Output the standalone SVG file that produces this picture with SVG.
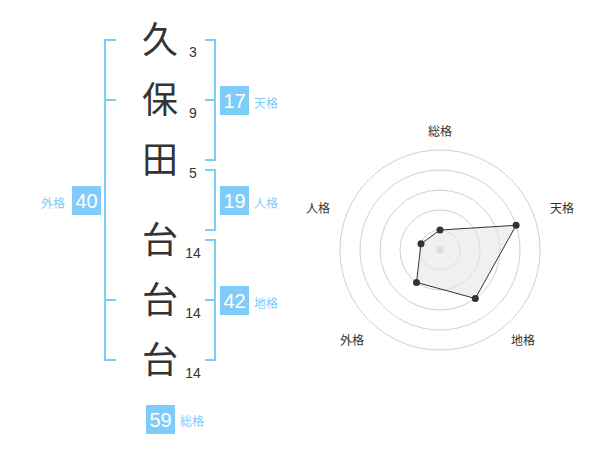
<svg xmlns="http://www.w3.org/2000/svg" width="600" height="470" viewBox="0 0 600 470">
<style>
.ch{font-family:"Noto Sans CJK JP","Noto Sans",sans-serif;font-size:36px;fill:#333;text-anchor:middle}
.st{font-family:"Liberation Sans",Arial,sans-serif;font-size:14px;fill:#333;text-anchor:middle}
.br{fill:none;stroke:#80ccf8;stroke-width:2}
.bx{fill:#80ccf8}
.bn{font-family:"Liberation Sans",Arial,sans-serif;font-size:20px;fill:#fff;text-anchor:middle}
.bl{font-family:"Noto Sans CJK JP",sans-serif;font-size:12px;fill:#80ccf8}
.rl{font-family:"Noto Sans CJK JP",sans-serif;font-size:12px;fill:#333;text-anchor:middle}
.ring{fill:none;stroke:#d0d0d0;stroke-width:1}
.pt{fill:#333}
</style>
<rect width="600" height="470" fill="#fff"/>
<g id="name">
<text class="ch" x="160" y="53">久</text>
<text class="ch" x="160" y="113">保</text>
<text class="ch" x="160" y="173">田</text>
<text class="ch" x="160" y="253">台</text>
<text class="ch" x="160" y="313">台</text>
<text class="ch" x="160" y="373">台</text>
<text class="st" x="193" y="57">3</text>
<text class="st" x="193" y="118">9</text>
<text class="st" x="193" y="178">5</text>
<text class="st" x="193" y="258">14</text>
<text class="st" x="193" y="318">14</text>
<text class="st" x="193" y="378">14</text>
</g>
<g id="connectors">
<path class="br" d="M116,40 H105 V360 H116 M105,100 H116 M105,300 H116"/>
<path class="br" d="M205,40 H215 V160 H205 M215,100 H205"/>
<path class="br" d="M205,170 H215 V230 H205"/>
<path class="br" d="M205,240 H215 V360 H205 M215,300 H205"/>
</g>
<g id="gaikaku">
<rect class="bx" x="72" y="186" width="29" height="29"/>
<text class="bn" x="86.5" y="207.5">40</text>
<text class="bl" x="41" y="208">外格</text>
</g>
<g id="tenkaku">
<rect class="bx" x="220" y="86" width="29" height="29"/>
<text class="bn" x="234.5" y="107.5">17</text>
<text class="bl" x="254" y="108">天格</text>
</g>
<g id="jinkaku">
<rect class="bx" x="220" y="186" width="29" height="29"/>
<text class="bn" x="234.5" y="207.5">19</text>
<text class="bl" x="254" y="208">人格</text>
</g>
<g id="chikaku">
<rect class="bx" x="220" y="286" width="29" height="29"/>
<text class="bn" x="234.5" y="307.5">42</text>
<text class="bl" x="254" y="308">地格</text>
</g>
<g id="soukaku">
<rect class="bx" x="146" y="405" width="29" height="29"/>
<text class="bn" x="160.5" y="426.5">59</text>
<text class="bl" x="180" y="426">総格</text>
</g>
<g id="radar">
<circle class="ring" cx="440" cy="250" r="20"/>
<circle class="ring" cx="440" cy="250" r="40"/>
<circle class="ring" cx="440" cy="250" r="60"/>
<circle class="ring" cx="440" cy="250" r="80"/>
<circle class="ring" cx="440" cy="250" r="100"/>
<circle cx="440" cy="250" r="3.5" fill="#ccc"/>
<polygon points="440,230 516.1,225.3 475.3,298.5 416.5,282.4 421,243.8" fill="#e6e6e6" fill-opacity="0.6" stroke="#333" stroke-width="1"/>
<circle class="pt" cx="440" cy="230" r="3.5"/>
<circle class="pt" cx="516.1" cy="225.3" r="3.5"/>
<circle class="pt" cx="475.3" cy="298.5" r="3.5"/>
<circle class="pt" cx="416.5" cy="282.4" r="3.5"/>
<circle class="pt" cx="421" cy="243.8" r="3.5"/>
<text class="rl" x="440" y="136">総格</text>
<text class="rl" x="562" y="213">天格</text>
<text class="rl" x="523" y="345">地格</text>
<text class="rl" x="352" y="345">外格</text>
<text class="rl" x="318" y="213">人格</text>
</g>
</svg>
